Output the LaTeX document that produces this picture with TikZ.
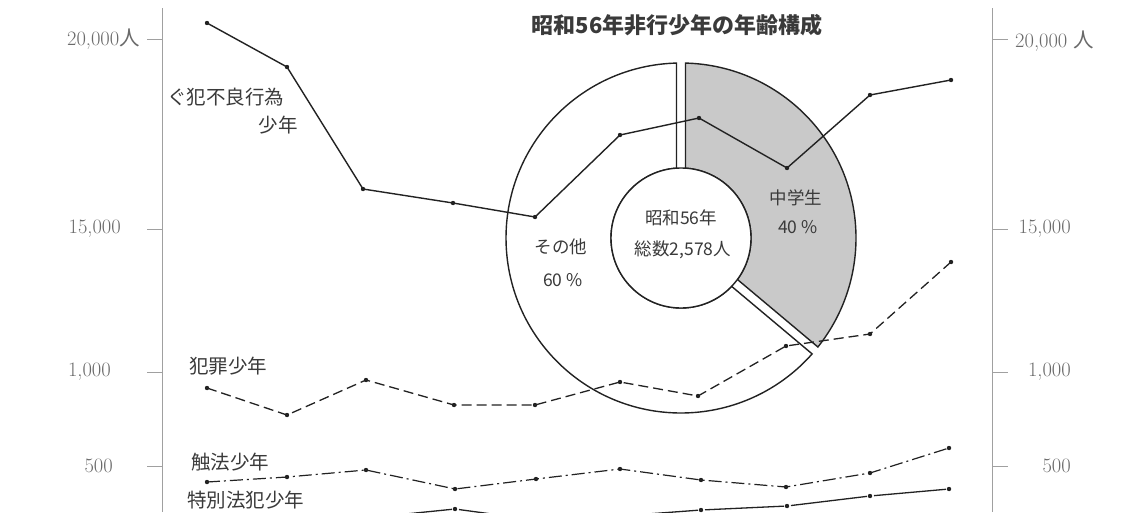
\documentclass[tikz,border=0pt]{standalone}
\usepackage{fontspec}
\newfontfamily\jp{Noto Sans CJK JP}
\definecolor{ink}{HTML}{222222}
\definecolor{txt}{HTML}{3A3A3A}
\definecolor{numc}{HTML}{6A6A6A}
\definecolor{axisc}{HTML}{A0A0A0}
\definecolor{segfill}{HTML}{C9C9C9}
\tikzset{
  axisline/.style={draw=axisc, line width=1pt},
  tickline/.style={draw=axisc, line width=0.9pt},
  dataline/.style={draw=ink, line width=1.4pt, line join=round},
  ringline/.style={draw=ink, line width=1.4pt, line join=miter},
  ptdot/.style={fill=ink},
  jplabel/.style={text=txt, inner sep=0pt, font=\jp\fontsize{19.5}{22}\selectfont},
  ringtext/.style={text=txt, inner sep=0pt, font=\jp\fontsize{17.5}{20}\selectfont},
  numlabel/.style={text=numc, inner sep=0pt, font=\fontsize{20.5}{24}\selectfont},
  titletext/.style={text=txt, inner sep=0pt, font=\jp\bfseries\fontsize{22}{26}\selectfont},
}
\begin{document}
\begin{tikzpicture}[x=1pt,y=-1pt]
\useasboundingbox (0,0) rectangle (1127,512);
\clip (0,0) rectangle (1127,512);
\fill[white] (0,0) rectangle (1127,512);

% axes
\coordinate (la) at (162,8); \coordinate (lb) at (162,512);
\coordinate (ra) at (992,8); \coordinate (rb) at (992,512);
\draw[axisline] (la) -- (lb);
\draw[axisline] (ra) -- (rb);
\foreach \n/\yy in {a/39,b/229,c/372,d/466}{
  \coordinate (lt\n) at (162,\yy);
  \coordinate (rt\n) at (992,\yy);
  \draw[tickline] (lt\n) -- ++(-15,0);
  \draw[tickline] (rt\n) -- ++(16,0);
}

% axis labels
\node[numlabel, anchor=east] (l20) at (140,39) {20,000{\jp 人}};
\node[numlabel, anchor=east] (l15) at (121,229) {15,000};
\node[numlabel, anchor=east] (l1)  at (111,372) {1,000};
\node[numlabel, anchor=east] (l5)  at (113,466) {500};
\node[numlabel, anchor=west] (r20) at (1015,41) {20,000 {\jp 人}};
\node[numlabel, anchor=east] (r15) at (1071,229) {15,000};
\node[numlabel, anchor=east] (r1)  at (1071,372) {1,000};
\node[numlabel, anchor=east] (r5)  at (1071,466) {500};

% donut
\begin{scope}[shift={(681,238)}, yscale=-1]
  \path[ringline, fill=segfill]
    ({90-asin(4.5/175)}:175) arc[start angle={90-asin(4.5/175)}, end angle={-40+asin(4.5/175)}, radius=175]
    -- ({-40+asin(4.5/70)}:70) arc[start angle={-40+asin(4.5/70)}, end angle={90-asin(4.5/70)}, radius=70]
    -- cycle;
  \path[ringline, fill=white]
    ({90+asin(4.5/175)}:175) arc[start angle={90+asin(4.5/175)}, end angle={320-asin(4.5/175)}, radius=175]
    -- ({320-asin(4.5/70)}:70) arc[start angle={320-asin(4.5/70)}, end angle={90+asin(4.5/70)}, radius=70]
    -- cycle;
  \draw[ringline, fill=white] (0,0) circle[radius=70];
\end{scope}

% data lines
\foreach \i/\xx/\yy in {1/207/23,2/287/67,3/363/189,4/453/203,5/535/217,6/620/135,7/699/118,8/787/168,9/870/95,10/951/80}
  \coordinate (g\i) at (\xx,\yy);
\foreach \i/\xx/\yy in {1/207/388,2/287/415,3/366/380,4/454/405,5/535/405,6/620/382,7/698/396,8/786/346,9/870/334,10/951/262}
  \coordinate (h\i) at (\xx,\yy);
\foreach \i/\xx/\yy in {1/207/482,2/287/477,3/366/470,4/455/489,5/536/479,6/620/469,7/701/480,8/786/487,9/870/473,10/949/448}
  \coordinate (s\i) at (\xx,\yy);
\foreach \i/\xx/\yy in {1/207/526,2/287/522,3/366/518,4/455/509,5/536/520,6/620/516,7/701/510,8/787/506,9/870/496,10/949/489}
  \coordinate (t\i) at (\xx,\yy);

\draw[dataline] (g1) \foreach \i in {2,...,10}{ -- (g\i)};
\draw[dataline, line width=1.3pt, dash pattern=on 10pt off 5pt] (h1) \foreach \i in {2,...,10}{ -- (h\i)};
\draw[dataline, line width=1.2pt, dash pattern=on 13pt off 4pt on 2pt off 4pt] (s1) \foreach \i in {2,...,10}{ -- (s\i)};
\foreach \i [evaluate=\i as \j using int(\i+1)] in {1,...,9}
  \draw[dataline, line width=1.3pt, shorten <=4pt, shorten >=3pt] (t\i) -- (t\j);
\foreach \p in {g,h,s,t}{
  \foreach \i in {1,...,10}
    \fill[ptdot] (\p\i) circle[radius=2.2pt];
}

% series labels
\node[jplabel, anchor=west] (lg1) at (167,97) {ぐ犯不良行為};
\node[jplabel, anchor=east] (lg2) at (298,125) {少年};
\node[jplabel, anchor=west] (lh) at (189,366) {犯罪少年};
\node[jplabel, anchor=west] (ls) at (191,462) {触法少年};
\node[jplabel, anchor=west] (lt) at (187,500) {特別法犯少年};

% donut texts
\node[titletext] (title) at (677,25) {昭和56年非行少年の年齢構成};
\node[ringtext] (c1) at (681,218) {昭和56年};
\node[ringtext] (c2) at (683,250) {総数2,578人};
\node[ringtext] (m1) at (796,198) {中学生};
\node[ringtext] (m2) at (798,227) {40 \%};
\node[ringtext] (o1) at (561,247) {その他};
\node[ringtext] (o2) at (563,280) {60 \%};
\end{tikzpicture}
\end{document}
